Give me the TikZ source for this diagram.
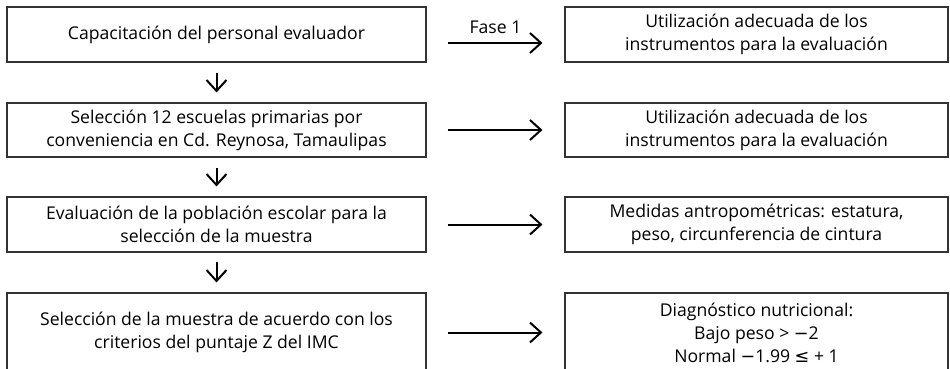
\documentclass[tikz,border=0pt]{standalone}
\usepackage{fontspec}
\setmainfont{Open Sans}
\newfontfamily\symf{DejaVu Sans}
\usetikzlibrary{arrows.meta}
\tikzset{
  box/.style={draw=black!80, line width=1.1pt, align=center, inner sep=0pt, font=\fontsize{17.6}{23}\selectfont},
  lbox/.style={box, minimum width=419pt},
  rbox/.style={box, minimum width=383pt},
  conn/.style={line width=2pt, -{Straight Barb[length=11pt,width=20pt,line width=2pt]}},
  lbl/.style={font=\fontsize{17.6}{18}\selectfont, inner sep=0pt}
}
\begin{document}
\begin{tikzpicture}[x=1pt,y=-1pt]
\useasboundingbox (0,0) rectangle (950,368);
\clip (0,0) rectangle (950,368);
\node[lbox, minimum height=55pt] (L1) at (216.5,34.5) {Capacitación del personal evaluador};
\node[lbox, minimum height=54pt] (L2) at (216.5,130) {Selección 12 escuelas primarias por\\conveniencia en Cd. Reynosa, Tamaulipas};
\node[lbox, minimum height=55pt] (L3) at (216.5,224.5) {Evaluación de la población escolar para la\\selección de la muestra};
\node[lbox, minimum height=79pt] (L4) at (216.5,332.5) {Selección de la muestra de acuerdo con los\\criterios del puntaje Z del IMC};
\node[rbox, minimum height=55pt] (R1) at (756.5,34.5) {Utilización adecuada de los\\instrumentos para la evaluación};
\node[rbox, minimum height=54pt] (R2) at (756.5,130) {Utilización adecuada de los\\instrumentos para la evaluación};
\node[rbox, minimum height=55pt] (R3) at (756.5,224.5) {Medidas antropométricas: estatura,\\peso, circunferencia de cintura};
\node[rbox, minimum height=79pt] (R4) at (756.5,332.5) {Diagnóstico nutricional:\\Bajo peso > {\symf−}2\\Normal {\symf−}1.99 {\symf≤} + 1};
\draw[conn, shorten <=21pt, shorten >=22pt] ([yshift=-8.5pt]L1.east) -- node[lbl, above=8pt] (f1) {Fase 1} ([yshift=-8.5pt]R1.west);
\draw[conn, shorten <=21pt, shorten >=22pt] (L2.east) -- (R2.west);
\draw[conn, shorten <=21pt, shorten >=22pt] (L3.east) -- (R3.west);
\draw[conn, shorten <=21pt, shorten >=22pt] (L4.east) -- (R4.west);
\draw[conn, shorten <=10pt, shorten >=10pt] (L1.south) -- (L2.north);
\draw[conn, shorten <=10pt, shorten >=10pt] (L2.south) -- (L3.north);
\draw[conn, shorten <=9pt, shorten >=10pt] (L3.south) -- (L4.north);
\end{tikzpicture}
\end{document}
